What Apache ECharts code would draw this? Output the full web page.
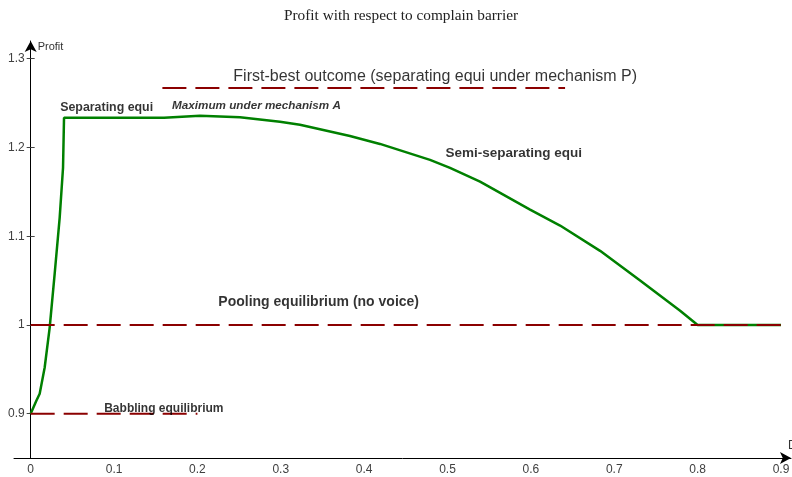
<!DOCTYPE html>
<html>
<head>
<meta charset="utf-8">
<script src="https://cdn.jsdelivr.net/npm/echarts@6.0.0/dist/echarts.min.js"></script>
<style>
html,body{margin:0;padding:0;background:#fff;}
#chart{width:792px;height:477px;}
</style>
</head>
<body>
<div id="chart"></div>
<script>
// ---- data ----
const curveX = [0, 0.0068, 0.0108, 0.0168, 0.0228, 0.0288, 0.0348, 0.0388, 0.040, 0.160, 0.162, 0.203, 0.251, 0.299, 0.323, 0.383, 0.419, 0.479, 0.503, 0.539, 0.599, 0.635, 0.683, 0.731, 0.779, 0.800, 0.900];
const curveY = [0.9, 0.9146, 0.9225, 0.952, 0.997, 1.0577, 1.121, 1.177, 1.2335, 1.2335, 1.2355, 1.2358, 1.234, 1.229, 1.2255, 1.213, 1.204, 1.186, 1.177, 1.1615, 1.130, 1.112, 1.0835, 1.050, 1.016, 1.000, 1.000];

const babblingX = [0, 0.2];
const babblingY = [0.9, 0.9];
const poolingX = [0, 0.9];
const poolingY = [1.0, 1.0];
const firstBestX = [0.158, 0.641];
const firstBestY = [1.267, 1.267];

const xTicks = [0, 0.1, 0.2, 0.3, 0.4, 0.5, 0.6, 0.7, 0.8, 0.9];
const xTickLabels = ['0', '0.1', '0.2', '0.3', '0.4', '0.5', '0.6', '0.7', '0.8', '0.9'];
const yTicks = [0.9, 1.0, 1.1, 1.2, 1.3];
const yTickLabels = ['0.9', '1', '1.1', '1.2', '1.3'];

const noteTexts = ['Separating equi', 'Maximum under mechanism A', 'First-best outcome (separating equi under mechanism P)', 'Semi-separating equi', 'Pooling equilibrium (no voice)', 'Babbling equilibrium'];
const noteX = [0.0348, 0.169, 0.2425, 0.497, 0.2245, 0.0876];
const noteY = [1.2448, 1.247, 1.2797, 1.193, 1.0262, 0.9056];

const zip = (a, b) => a.map((v, i) => [v, b[i]]);

const noteStyles = [
  {fontSize: 12.4, fontWeight: 'bold', fontStyle: 'normal'},
  {fontSize: 11.7, fontWeight: 'bold', fontStyle: 'italic'},
  {fontSize: 16, fontWeight: 'normal', fontStyle: 'normal'},
  {fontSize: 13.5, fontWeight: 'bold', fontStyle: 'normal'},
  {fontSize: 14, fontWeight: 'bold', fontStyle: 'normal'},
  {fontSize: 12, fontWeight: 'bold', fontStyle: 'normal'}
];

const X_MIN = -0.02, X_MAX = 0.912, GRID_LEFT = 14, GRID_RIGHT = 1;
const plotW = 792 - GRID_LEFT - GRID_RIGHT;
const yAxisShift = -(0 - X_MIN) / (X_MAX - X_MIN) * plotW; // put the y axis at x = 0

const chart = echarts.init(document.getElementById('chart'), null, {renderer: 'canvas'});
const dashRed = {color: '#8b0000', width: 2, type: [24, 9]};

chart.setOption({
  animation: false,
  backgroundColor: '#ffffff',
  textStyle: {fontFamily: 'Liberation Sans, Arial, sans-serif'},
  title: {
    text: 'Profit with respect to complain barrier',
    left: 396,
    textAlign: 'center',
    top: 3,
    textStyle: {fontFamily: 'Liberation Serif, Times New Roman, serif', fontSize: 15.3, fontWeight: 'normal', color: '#222'}
  },
  grid: {left: GRID_LEFT, right: GRID_RIGHT, top: 41, bottom: 19, containLabel: false, outerBoundsMode: 'none'},
  xAxis: {
    type: 'value', min: X_MIN, max: X_MAX,
    name: 'D',
    nameLocation: 'end',
    nameGap: -3,
    nameTextStyle: {color: '#333', fontSize: 12, align: 'left', verticalAlign: 'bottom', padding: [0, 0, 6, 0]},
    axisLine: {show: true, onZero: false, symbol: ['none', 'arrow'], symbolSize: [9, 11], lineStyle: {color: '#000', width: 1}},
    axisTick: {show: false},
    axisLabel: {customValues: xTicks, formatter: v => xTickLabels[xTicks.findIndex(t => Math.abs(t - v) < 1e-9)], color: '#404040', fontSize: 12, margin: 6},
    splitLine: {show: false}
  },
  yAxis: [{
    type: 'value', min: 0.85, max: 1.32, position: 'left', offset: yAxisShift,
    name: 'Profit',
    nameLocation: 'end',
    nameGap: -6,
    nameTextStyle: {color: '#333', fontSize: 11, align: 'left', verticalAlign: 'middle', padding: [0, 0, 0, 7]},
    axisLine: {show: true, onZero: false, symbol: ['none', 'arrow'], symbolSize: [9, 11], lineStyle: {color: '#000', width: 1}},
    axisTick: {show: true, customValues: yTicks, length: 4, lineStyle: {color: '#444'}},
    axisLabel: {customValues: yTicks, formatter: v => yTickLabels[yTicks.findIndex(t => Math.abs(t - v) < 1e-9)], color: '#404040', fontSize: 12, margin: 6},
    splitLine: {show: false}
  }, {
    type: 'value', min: 0.85, max: 1.32, position: 'left', offset: yAxisShift,
    axisLine: {show: false, onZero: false},
    axisTick: {show: true, inside: true, customValues: yTicks, length: 4, lineStyle: {color: '#444'}},
    axisLabel: {show: false},
    splitLine: {show: false}
  }],
  series: [
    {type: 'line', data: zip(curveX, curveY), showSymbol: false, symbol: 'none', lineStyle: {color: '#008000', width: 2.5}, z: 2},
    {type: 'line', data: zip(babblingX, babblingY), symbol: 'none', lineStyle: dashRed, z: 3},
    {type: 'line', data: zip(poolingX, poolingY), symbol: 'none', lineStyle: dashRed, z: 3},
    {type: 'line', data: zip(firstBestX, firstBestY), symbol: 'none', lineStyle: dashRed, z: 3},
    {
      type: 'scatter', symbolSize: 1, itemStyle: {color: 'rgba(0,0,0,0)'}, z: 5,
      data: noteTexts.map((t, i) => ({
        value: [noteX[i], noteY[i]], name: t,
        label: Object.assign({show: true, position: 'right', distance: 0, formatter: '{b}', color: '#000', fontFamily: 'Liberation Sans, Arial, sans-serif'}, noteStyles[i])
      }))
    }
  ]
});
</script>
</body>
</html>
